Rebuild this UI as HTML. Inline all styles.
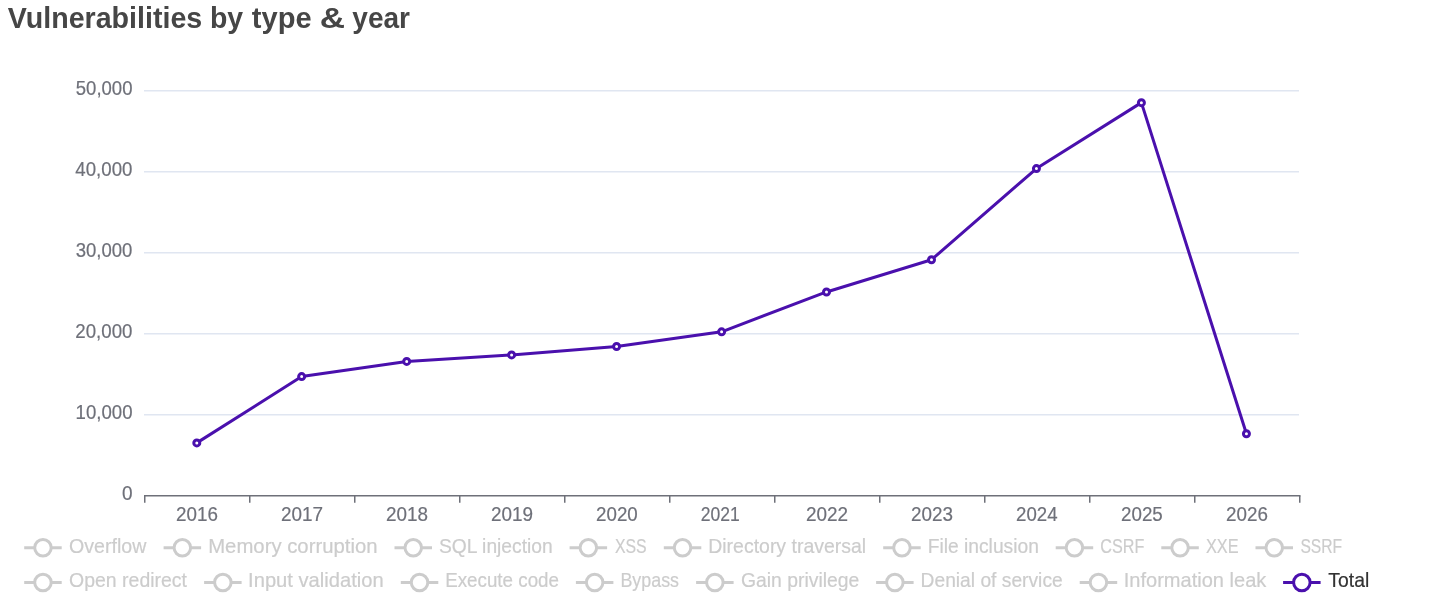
<!DOCTYPE html>
<html><head><meta charset="utf-8"><title>Vulnerabilities by type &amp; year</title><style>
html,body{margin:0;padding:0;background:#fff;}
body{width:1443px;height:600px;overflow:hidden;}
svg{display:block;will-change:transform;font-family:"Liberation Sans",sans-serif;}
</style></head><body>
<svg width="1443" height="600" viewBox="0 0 1443 600">
<line x1="144" y1="90.75" x2="1299" y2="90.75" stroke="#E0E6F1" stroke-width="1.5"/>
<line x1="144" y1="171.75" x2="1299" y2="171.75" stroke="#E0E6F1" stroke-width="1.5"/>
<line x1="144" y1="252.75" x2="1299" y2="252.75" stroke="#E0E6F1" stroke-width="1.5"/>
<line x1="144" y1="333.75" x2="1299" y2="333.75" stroke="#E0E6F1" stroke-width="1.5"/>
<line x1="144" y1="414.75" x2="1299" y2="414.75" stroke="#E0E6F1" stroke-width="1.5"/>
<line x1="144" y1="495.75" x2="1300.5" y2="495.75" stroke="#6E7079" stroke-width="1.5"/>
<line x1="144.75" y1="495.75" x2="144.75" y2="502.75" stroke="#6E7079" stroke-width="1.5"/>
<line x1="249.75" y1="495.75" x2="249.75" y2="502.75" stroke="#6E7079" stroke-width="1.5"/>
<line x1="354.75" y1="495.75" x2="354.75" y2="502.75" stroke="#6E7079" stroke-width="1.5"/>
<line x1="459.75" y1="495.75" x2="459.75" y2="502.75" stroke="#6E7079" stroke-width="1.5"/>
<line x1="564.75" y1="495.75" x2="564.75" y2="502.75" stroke="#6E7079" stroke-width="1.5"/>
<line x1="669.75" y1="495.75" x2="669.75" y2="502.75" stroke="#6E7079" stroke-width="1.5"/>
<line x1="774.75" y1="495.75" x2="774.75" y2="502.75" stroke="#6E7079" stroke-width="1.5"/>
<line x1="879.75" y1="495.75" x2="879.75" y2="502.75" stroke="#6E7079" stroke-width="1.5"/>
<line x1="984.75" y1="495.75" x2="984.75" y2="502.75" stroke="#6E7079" stroke-width="1.5"/>
<line x1="1089.75" y1="495.75" x2="1089.75" y2="502.75" stroke="#6E7079" stroke-width="1.5"/>
<line x1="1194.75" y1="495.75" x2="1194.75" y2="502.75" stroke="#6E7079" stroke-width="1.5"/>
<line x1="1299.75" y1="495.75" x2="1299.75" y2="502.75" stroke="#6E7079" stroke-width="1.5"/>
<path d="M196.80,442.88 L301.65,376.58 L406.70,361.40 L511.60,354.90 L616.60,346.53 L721.60,331.83 L826.50,291.96 L931.50,259.73 L1036.43,168.60 L1141.40,102.63 L1246.43,433.78" fill="none" stroke="#4a10ad" stroke-width="3" stroke-linejoin="bevel"/>
<circle cx="196.8" cy="442.88" r="3" fill="#fff" stroke="#4a10ad" stroke-width="3"/>
<circle cx="301.65" cy="376.58" r="3" fill="#fff" stroke="#4a10ad" stroke-width="3"/>
<circle cx="406.7" cy="361.4" r="3" fill="#fff" stroke="#4a10ad" stroke-width="3"/>
<circle cx="511.6" cy="354.9" r="3" fill="#fff" stroke="#4a10ad" stroke-width="3"/>
<circle cx="616.6" cy="346.53" r="3" fill="#fff" stroke="#4a10ad" stroke-width="3"/>
<circle cx="721.6" cy="331.83" r="3" fill="#fff" stroke="#4a10ad" stroke-width="3"/>
<circle cx="826.5" cy="291.96" r="3" fill="#fff" stroke="#4a10ad" stroke-width="3"/>
<circle cx="931.5" cy="259.73" r="3" fill="#fff" stroke="#4a10ad" stroke-width="3"/>
<circle cx="1036.43" cy="168.6" r="3" fill="#fff" stroke="#4a10ad" stroke-width="3"/>
<circle cx="1141.4" cy="102.63" r="3" fill="#fff" stroke="#4a10ad" stroke-width="3"/>
<circle cx="1246.43" cy="433.78" r="3" fill="#fff" stroke="#4a10ad" stroke-width="3"/>
<line x1="24.2" y1="547.75" x2="61.7" y2="547.75" stroke="#ccc" stroke-width="3"/>
<circle cx="42.95" cy="547.75" r="8.25" fill="#fff" stroke="#ccc" stroke-width="3"/>
<line x1="163.6" y1="547.75" x2="201.1" y2="547.75" stroke="#ccc" stroke-width="3"/>
<circle cx="182.35" cy="547.75" r="8.25" fill="#fff" stroke="#ccc" stroke-width="3"/>
<line x1="394.5" y1="547.75" x2="432.0" y2="547.75" stroke="#ccc" stroke-width="3"/>
<circle cx="413.25" cy="547.75" r="8.25" fill="#fff" stroke="#ccc" stroke-width="3"/>
<line x1="569.6" y1="547.75" x2="607.1" y2="547.75" stroke="#ccc" stroke-width="3"/>
<circle cx="588.35" cy="547.75" r="8.25" fill="#fff" stroke="#ccc" stroke-width="3"/>
<line x1="663.8" y1="547.75" x2="701.3" y2="547.75" stroke="#ccc" stroke-width="3"/>
<circle cx="682.55" cy="547.75" r="8.25" fill="#fff" stroke="#ccc" stroke-width="3"/>
<line x1="883.2" y1="547.75" x2="920.7" y2="547.75" stroke="#ccc" stroke-width="3"/>
<circle cx="901.95" cy="547.75" r="8.25" fill="#fff" stroke="#ccc" stroke-width="3"/>
<line x1="1055.7" y1="547.75" x2="1093.2" y2="547.75" stroke="#ccc" stroke-width="3"/>
<circle cx="1074.45" cy="547.75" r="8.25" fill="#fff" stroke="#ccc" stroke-width="3"/>
<line x1="1161.3" y1="547.75" x2="1198.8" y2="547.75" stroke="#ccc" stroke-width="3"/>
<circle cx="1180.05" cy="547.75" r="8.25" fill="#fff" stroke="#ccc" stroke-width="3"/>
<line x1="1255.5" y1="547.75" x2="1293.0" y2="547.75" stroke="#ccc" stroke-width="3"/>
<circle cx="1274.25" cy="547.75" r="8.25" fill="#fff" stroke="#ccc" stroke-width="3"/>
<line x1="24.2" y1="582.5" x2="61.7" y2="582.5" stroke="#ccc" stroke-width="3"/>
<circle cx="42.95" cy="582.5" r="8.25" fill="#fff" stroke="#ccc" stroke-width="3"/>
<line x1="204.1" y1="582.5" x2="241.6" y2="582.5" stroke="#ccc" stroke-width="3"/>
<circle cx="222.85" cy="582.5" r="8.25" fill="#fff" stroke="#ccc" stroke-width="3"/>
<line x1="400.8" y1="582.5" x2="438.3" y2="582.5" stroke="#ccc" stroke-width="3"/>
<circle cx="419.55" cy="582.5" r="8.25" fill="#fff" stroke="#ccc" stroke-width="3"/>
<line x1="575.9" y1="582.5" x2="613.4" y2="582.5" stroke="#ccc" stroke-width="3"/>
<circle cx="594.65" cy="582.5" r="8.25" fill="#fff" stroke="#ccc" stroke-width="3"/>
<line x1="696.1" y1="582.5" x2="733.6" y2="582.5" stroke="#ccc" stroke-width="3"/>
<circle cx="714.85" cy="582.5" r="8.25" fill="#fff" stroke="#ccc" stroke-width="3"/>
<line x1="876.1" y1="582.5" x2="913.6" y2="582.5" stroke="#ccc" stroke-width="3"/>
<circle cx="894.85" cy="582.5" r="8.25" fill="#fff" stroke="#ccc" stroke-width="3"/>
<line x1="1079.7" y1="582.5" x2="1117.2" y2="582.5" stroke="#ccc" stroke-width="3"/>
<circle cx="1098.45" cy="582.5" r="8.25" fill="#fff" stroke="#ccc" stroke-width="3"/>
<line x1="1283.1" y1="582.5" x2="1320.6" y2="582.5" stroke="#4a10ad" stroke-width="3"/>
<circle cx="1301.85" cy="582.5" r="8.25" fill="#fff" stroke="#4a10ad" stroke-width="3"/>
<text x="7.76" y="28" font-size="29" fill="#464646" font-weight="bold" textLength="194.49" lengthAdjust="spacingAndGlyphs">Vulnerabilities</text>
<text x="210.01" y="28" font-size="29" fill="#464646" font-weight="bold" textLength="33.15" lengthAdjust="spacingAndGlyphs">by</text>
<text x="251.87" y="28" font-size="29" fill="#464646" font-weight="bold" textLength="59.74" lengthAdjust="spacingAndGlyphs">type</text>
<text x="319.66" y="28" font-size="29" fill="#464646" font-weight="bold" textLength="25.29" lengthAdjust="spacingAndGlyphs">&amp;</text>
<text x="352.36" y="28" font-size="29" fill="#464646" font-weight="bold" textLength="57.67" lengthAdjust="spacingAndGlyphs">year</text>
<text x="75.75" y="94.75" font-size="20.2" fill="#6E7079" stroke="#6E7079" stroke-width="0.2" textLength="56.72" lengthAdjust="spacingAndGlyphs">50,000</text>
<text x="75.32" y="175.75" font-size="20.2" fill="#6E7079" stroke="#6E7079" stroke-width="0.2" textLength="57.12" lengthAdjust="spacingAndGlyphs">40,000</text>
<text x="75.68" y="256.75" font-size="20.2" fill="#6E7079" stroke="#6E7079" stroke-width="0.2" textLength="56.74" lengthAdjust="spacingAndGlyphs">30,000</text>
<text x="75.34" y="337.75" font-size="20.2" fill="#6E7079" stroke="#6E7079" stroke-width="0.2" textLength="57.11" lengthAdjust="spacingAndGlyphs">20,000</text>
<text x="75.58" y="418.75" font-size="20.2" fill="#6E7079" stroke="#6E7079" stroke-width="0.2" textLength="56.93" lengthAdjust="spacingAndGlyphs">10,000</text>
<text x="121.93" y="499.75" font-size="20.2" fill="#6E7079" stroke="#6E7079" stroke-width="0.2" textLength="10.58" lengthAdjust="spacingAndGlyphs">0</text>
<text x="176.06" y="521" font-size="20.2" fill="#6E7079" stroke="#6E7079" stroke-width="0.2" textLength="41.81" lengthAdjust="spacingAndGlyphs">2016</text>
<text x="281.05" y="521" font-size="20.2" fill="#6E7079" stroke="#6E7079" stroke-width="0.2" textLength="42.05" lengthAdjust="spacingAndGlyphs">2017</text>
<text x="386.06" y="521" font-size="20.2" fill="#6E7079" stroke="#6E7079" stroke-width="0.2" textLength="41.93" lengthAdjust="spacingAndGlyphs">2018</text>
<text x="491.04" y="521" font-size="20.2" fill="#6E7079" stroke="#6E7079" stroke-width="0.2" textLength="42.06" lengthAdjust="spacingAndGlyphs">2019</text>
<text x="596.05" y="521" font-size="20.2" fill="#6E7079" stroke="#6E7079" stroke-width="0.2" textLength="41.69" lengthAdjust="spacingAndGlyphs">2020</text>
<text x="700.75" y="521" font-size="20.2" fill="#6E7079" stroke="#6E7079" stroke-width="0.2" textLength="39.00" lengthAdjust="spacingAndGlyphs">2021</text>
<text x="806.05" y="521" font-size="20.2" fill="#6E7079" stroke="#6E7079" stroke-width="0.2" textLength="42.05" lengthAdjust="spacingAndGlyphs">2022</text>
<text x="911.05" y="521" font-size="20.2" fill="#6E7079" stroke="#6E7079" stroke-width="0.2" textLength="41.94" lengthAdjust="spacingAndGlyphs">2023</text>
<text x="1016.11" y="521" font-size="20.2" fill="#6E7079" stroke="#6E7079" stroke-width="0.2" textLength="41.44" lengthAdjust="spacingAndGlyphs">2024</text>
<text x="1121.07" y="521" font-size="20.2" fill="#6E7079" stroke="#6E7079" stroke-width="0.2" textLength="41.76" lengthAdjust="spacingAndGlyphs">2025</text>
<text x="1226.06" y="521" font-size="20.2" fill="#6E7079" stroke="#6E7079" stroke-width="0.2" textLength="41.81" lengthAdjust="spacingAndGlyphs">2026</text>
<text x="69.03" y="553" font-size="20.2" fill="#ccc" stroke="#ccc" stroke-width="0.2" textLength="77.32" lengthAdjust="spacingAndGlyphs">Overflow</text>
<text x="208.19" y="553" font-size="20.2" fill="#ccc" stroke="#ccc" stroke-width="0.2" textLength="169.39" lengthAdjust="spacingAndGlyphs">Memory corruption</text>
<text x="439.01" y="553" font-size="20.2" fill="#ccc" stroke="#ccc" stroke-width="0.2" textLength="113.68" lengthAdjust="spacingAndGlyphs">SQL injection</text>
<text x="614.88" y="553" font-size="20.2" fill="#ccc" stroke="#ccc" stroke-width="0.2" textLength="31.70" lengthAdjust="spacingAndGlyphs">XSS</text>
<text x="708.23" y="553" font-size="20.2" fill="#ccc" stroke="#ccc" stroke-width="0.2" textLength="157.94" lengthAdjust="spacingAndGlyphs">Directory traversal</text>
<text x="927.68" y="553" font-size="20.2" fill="#ccc" stroke="#ccc" stroke-width="0.2" textLength="111.23" lengthAdjust="spacingAndGlyphs">File inclusion</text>
<text x="1100.36" y="553" font-size="20.2" fill="#ccc" stroke="#ccc" stroke-width="0.2" textLength="44.03" lengthAdjust="spacingAndGlyphs">CSRF</text>
<text x="1205.99" y="553" font-size="20.2" fill="#ccc" stroke="#ccc" stroke-width="0.2" textLength="32.60" lengthAdjust="spacingAndGlyphs">XXE</text>
<text x="1300.42" y="553" font-size="20.2" fill="#ccc" stroke="#ccc" stroke-width="0.2" textLength="41.77" lengthAdjust="spacingAndGlyphs">SSRF</text>
<text x="69.05" y="587" font-size="20.2" fill="#ccc" stroke="#ccc" stroke-width="0.2" textLength="117.93" lengthAdjust="spacingAndGlyphs">Open redirect</text>
<text x="248.11" y="587" font-size="20.2" fill="#ccc" stroke="#ccc" stroke-width="0.2" textLength="135.51" lengthAdjust="spacingAndGlyphs">Input validation</text>
<text x="445.20" y="587" font-size="20.2" fill="#ccc" stroke="#ccc" stroke-width="0.2" textLength="113.78" lengthAdjust="spacingAndGlyphs">Execute code</text>
<text x="620.46" y="587" font-size="20.2" fill="#ccc" stroke="#ccc" stroke-width="0.2" textLength="58.52" lengthAdjust="spacingAndGlyphs">Bypass</text>
<text x="740.91" y="587" font-size="20.2" fill="#ccc" stroke="#ccc" stroke-width="0.2" textLength="118.39" lengthAdjust="spacingAndGlyphs">Gain privilege</text>
<text x="920.58" y="587" font-size="20.2" fill="#ccc" stroke="#ccc" stroke-width="0.2" textLength="142.12" lengthAdjust="spacingAndGlyphs">Denial of service</text>
<text x="1123.79" y="587" font-size="20.2" fill="#ccc" stroke="#ccc" stroke-width="0.2" textLength="142.53" lengthAdjust="spacingAndGlyphs">Information leak</text>
<text x="1328.36" y="587" font-size="20.2" fill="#333" stroke="#333" stroke-width="0.2" textLength="40.88" lengthAdjust="spacingAndGlyphs">Total</text>
</svg>
</body></html>
